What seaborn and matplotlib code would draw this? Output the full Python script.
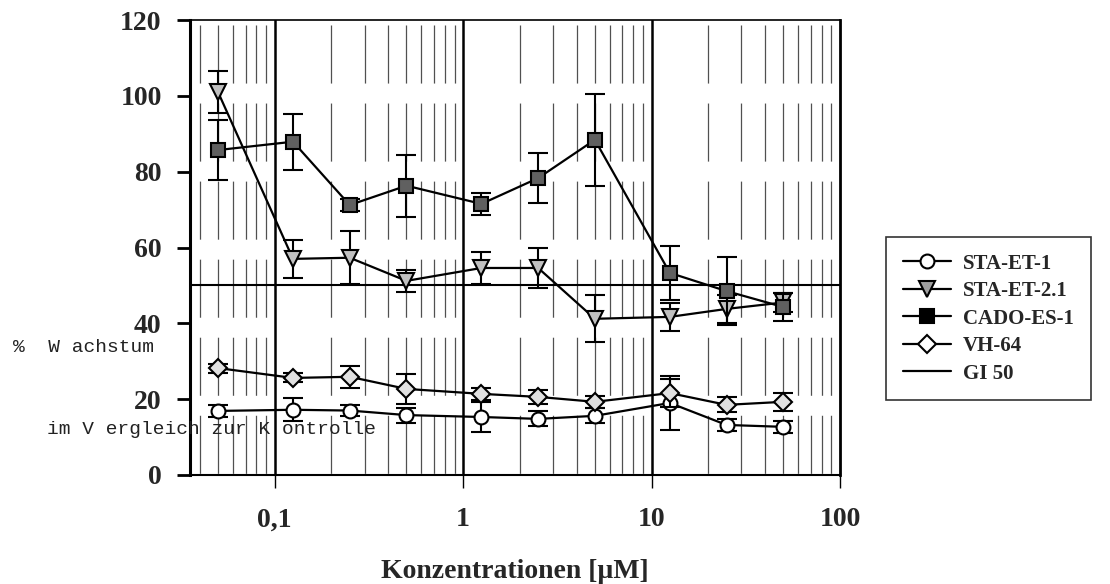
import matplotlib
matplotlib.use("Agg")
import matplotlib.pyplot as plt
from matplotlib.lines import Line2D
import seaborn as sns

# Concentrations (µM) and growth in % of control, with standard deviations
conc = [0.05, 0.125, 0.25, 0.5, 1.25, 2.5, 5, 12.5, 25, 50]

sta_et_1 = [16.9, 17.2, 17.0, 15.8, 15.3, 14.8, 15.6, 19.0, 13.2, 12.7]
sta_et_1_err = [1.5, 3.0, 1.5, 2.0, 4.0, 2.0, 2.0, 7.0, 1.5, 1.5]

sta_et_21 = [101.0, 57.0, 57.3, 51.2, 54.6, 54.6, 41.2, 41.7, 43.8, 45.5]
sta_et_21_err = [5.6, 5.0, 7.0, 2.9, 4.3, 5.4, 6.2, 3.6, 3.7, 2.5]

cado_es_1 = [85.7, 87.9, 71.2, 76.3, 71.5, 78.3, 88.4, 53.3, 48.5, 44.3]
cado_es_1_err = [8.0, 7.4, 1.5, 8.2, 2.8, 6.6, 12.2, 7.2, 9.0, 3.7]

vh_64 = [28.2, 25.6, 25.9, 22.7, 21.4, 20.6, 19.3, 21.6, 18.5, 19.3]
vh_64_err = [1.2, 1.2, 2.9, 4.0, 1.5, 1.8, 1.5, 3.7, 2.0, 2.3]

gi_50 = 50

series_names = ["STA-ET-1", "STA-ET-2.1", "CADO-ES-1", "VH-64"]
x_tick_values = [0.1, 1, 10, 100]
x_tick_labels = ["0,1", "1", "10", "100"]
y_tick_values = [0, 20, 40, 60, 80, 100, 120]

sns.set_theme(style="white")
plt.rcParams["font.family"] = ["Liberation Serif", "DejaVu Serif"]
plt.rcParams["lines.scale_dashes"] = False

W, H = 1110, 584
fig = plt.figure(figsize=(W / 100, H / 100), dpi=100)
ax = fig.add_axes([190 / W, 1 - 475 / H, (840 - 190) / W, (475 - 20) / H])

xmin, xmax = 0.0355, 100
ax.set_xscale("log")
ax.set_xlim(xmin, xmax)
ax.set_ylim(0, 120)

# dashed minor grid inside each decade
minor = []
for d in [0.01, 0.1, 1, 10]:
    for k in range(2, 10):
        v = k * d
        if xmin < v < xmax:
            minor.append(v)
ax.vlines(minor, 120, 0, colors="#505050", linewidth=0.9,
          linestyles=[(52.6, (41.8, 14.4))], zorder=1)

# solid decade lines
for v in [0.1, 1, 10]:
    ax.axvline(v, color="black", linewidth=1.8, zorder=1.5)

# GI 50 reference
ax.axhline(gi_50, color="black", linewidth=1.5, zorder=1.6)

styles = [
    (sta_et_1, sta_et_1_err, "o", "white", 10),
    (sta_et_21, sta_et_21_err, "v", "#c0c0c0", 11),
    (cado_es_1, cado_es_1_err, "s", "#606060", 10),
    (vh_64, vh_64_err, "D", "#e0e0e0", 9),
]
for i, (vals, err, mk, fc, ms) in enumerate(styles):
    z = 3 + i
    ax.errorbar(conc, vals, yerr=err, fmt="none", ecolor="black",
                elinewidth=1.5, capsize=7, capthick=1.5, zorder=z)
    sns.lineplot(x=conc, y=vals, ax=ax, color="black", linewidth=1.6,
                 marker=mk, markersize=ms, markerfacecolor=fc,
                 markeredgecolor="black", markeredgewidth=1.5,
                 zorder=z + 0.5, legend=False)

ax.set_xlabel("")
ax.set_ylabel("")
ax.set_xticks(x_tick_values)
ax.set_xticklabels(x_tick_labels)
ax.xaxis.set_minor_locator(matplotlib.ticker.NullLocator())
ax.set_yticks(y_tick_values)
ax.set_yticklabels([str(v) for v in y_tick_values])

ax.tick_params(axis="x", which="major", direction="out", length=9.4,
               width=1, color="black", pad=14, bottom=True,
               labelsize=20)
ax.tick_params(axis="y", which="major", direction="out", length=9.4,
               width=2, color="black", pad=11, left=True, labelsize=20)
for lab in ax.get_xticklabels() + ax.get_yticklabels():
    lab.set_fontweight("bold")

for side, lw in [("left", 2.2), ("bottom", 1.5), ("top", 1.2), ("right", 2.0)]:
    ax.spines[side].set_color("black")
    ax.spines[side].set_linewidth(lw)
    ax.spines[side].set_visible(True)

fig.text(515 / W, 1 - 571 / H, "Konzentrationen [µM]", ha="center",
         va="center", fontsize=20, fontweight="bold")

mono = ["Liberation Mono", "DejaVu Sans Mono"]
fig.text(13 / W, 1 - 347 / H, "%  W achstum", ha="left", va="center",
         fontsize=14, family=mono, color="#222222")
fig.text(47 / W, 1 - 430 / H, "im V ergleich zur K ontrolle", ha="left",
         va="center", fontsize=14, family=mono, color="#222222", zorder=10)

handles = [
    Line2D([], [], color="black", lw=1.6, marker="o", ms=10,
           mfc="white", mec="black", mew=1.5),
    Line2D([], [], color="black", lw=1.6, marker="v", ms=11,
           mfc="#a0a0a0", mec="black", mew=1.5),
    Line2D([], [], color="black", lw=1.6, marker="s", ms=10,
           mfc="black", mec="black", mew=1.5),
    Line2D([], [], color="black", lw=1.6, marker="D", ms=9,
           mfc="white", mec="black", mew=1.5),
    Line2D([], [], color="black", lw=1.6),
]
labels = series_names + ["GI 50"]
leg = fig.legend(handles, labels, loc="upper left",
                 bbox_to_anchor=(886 / W, 1 - 237 / H),
                 prop={"family": "Liberation Serif", "weight": "bold",
                       "size": 15},
                 frameon=True, fancybox=False, handlelength=2.3,
                 handletextpad=0.6, labelspacing=0.36, borderpad=0.8,
                 borderaxespad=0)
leg.get_frame().set_edgecolor("black")
leg.get_frame().set_linewidth(1.2)

fig.savefig("out.png", dpi=100, facecolor="white")
